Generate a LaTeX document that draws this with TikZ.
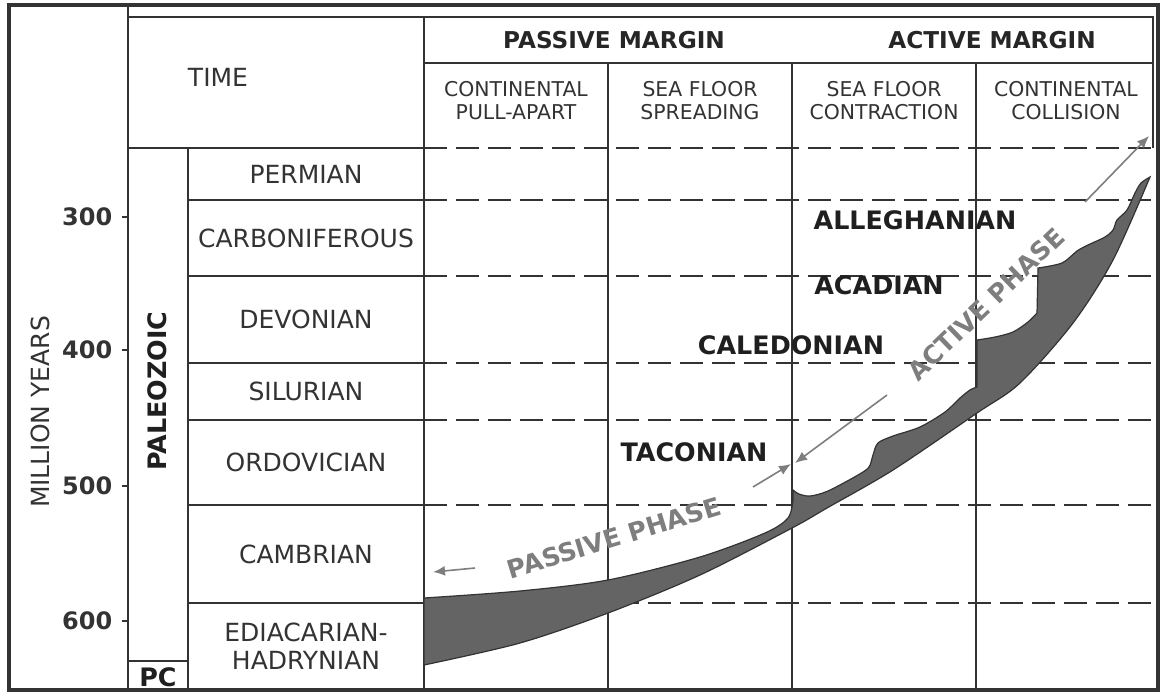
\documentclass[tikz,border=0pt]{standalone}
\usepackage{fontspec}
\setmainfont{DejaVu Sans}
\usetikzlibrary{arrows.meta}

\definecolor{ink}{HTML}{333333}
\definecolor{phasegray}{HTML}{7E7E7E}
\definecolor{crust}{HTML}{646464}

\begin{document}
\begin{tikzpicture}[x=0.5pt,y=-0.5pt,line width=1pt,draw=ink,
    lab/.style={text=ink,font=\fontsize{12.5}{14}\selectfont,align=center},
    head/.style={text=ink,font=\fontsize{10.2}{11.5}\selectfont,align=center},
    margin/.style={text=black!85,font=\bfseries\fontsize{11.6}{14}\selectfont},
    orogeny/.style={text=black!88,font=\bfseries\fontsize{12.7}{15}\selectfont},
    phase/.style={text=phasegray,font=\bfseries\fontsize{12.7}{15}\selectfont},
    agelab/.style={text=ink,font=\bfseries\fontsize{12}{14}\selectfont,anchor=east},
    dashline/.style={draw=ink,dash pattern=on 11.5pt off 4.5pt},
    phasearrow/.style={draw=phasegray,line width=0.8pt,-{Latex[length=6pt,width=5pt]}}]

        \useasboundingbox (0,0) rectangle (1160,691);

        % table frame
        \draw[line width=2pt] (9,5) rectangle (1158,690);
        \draw (128,5) -- (128,690);
        \draw (128,17) -- (1153,17) -- (1153,148);
        \draw (424,17) -- (424,690);
        \draw (424,63) -- (1153,63);
        \foreach \x in {608,792,976} \draw (\x,63) -- (\x,690);
        \draw (128,148) -- (424,148);
        \draw (188,148) -- (188,690);
        \draw (128,661) -- (188,661);
        \foreach \y in {200,276,363,420,505,603} \draw (188,\y) -- (424,\y);
        \foreach \y in {148,200,276,363,420,505,603} \draw[dashline] (424,\y) -- (1156,\y);

        % age ticks
        \foreach \age/\y in {300/217,400/350,500/486,600/621} {
            \draw (122,\y) -- (128,\y);
            \node[agelab] (age\age) at (120,\y) {\age};
        }

        % crust wedge
        \draw[fill=crust,line width=0.6pt]
            plot[smooth] coordinates {(424,598) (520,591) (608,580) (700,557) (765,533) (788,518) (793,500)}
            -- (793,490)
            -- plot[smooth] coordinates {(793,490) (799,494) (810,496) (828,491) (858,475) (869,467) (873,455) (878,443) (893,436) (920,427) (945,412) (960,398) (970,390) (977,387)}
            -- (977,340)
            -- plot[smooth] coordinates {(977,340) (995,337) (1013,332) (1028,322) (1037,313)}
            -- (1038,268)
            -- plot[smooth] coordinates {(1038,268) (1062,263) (1077,251) (1088,245) (1105,237) (1113,230) (1117,220) (1127,210) (1135,193) (1141,183) (1150,177)}
            -- plot[smooth] coordinates {(1150,177) (1113,260) (1073,323) (1020,383) (977,413) (893,470) (827,508) (792,528) (700,575) (608,613) (520,643) (424,665)}
            -- cycle;

        % headers
        \node[lab] (time) at (218,77) {TIME};
        \node[margin] (pm) at (614,40) {PASSIVE MARGIN};
        \node[margin] (am) at (992,40) {ACTIVE MARGIN};
        \node[head] (cpa) at (516,101) {CONTINENTAL\\PULL-APART};
        \node[head] (sfs) at (700,101) {SEA FLOOR\\SPREADING};
        \node[head] (sfc) at (884,101) {SEA FLOOR\\CONTRACTION};
        \node[head] (cc) at (1066,101) {CONTINENTAL\\COLLISION};

        % periods
        \foreach \name/\top/\bot [count=\i] in {PERMIAN/148/200, CARBONIFEROUS/200/276,
            DEVONIAN/276/363, SILURIAN/363/420, ORDOVICIAN/420/505, CAMBRIAN/505/603,
            {EDIACARIAN-\\HADRYNIAN}/603/690}
            \node[lab] (per\i) at (306,{(\top+\bot)/2}) {\name};

        \node[lab,rotate=90] (myears) at (40,412) {MILLION YEARS};
        \node[orogeny,rotate=90] (paleo) at (157,391) {PALEOZOIC};
        \node[orogeny] (pc) at (158,677) {PC};

        % orogenies
        \node[orogeny] (taconian) at (694,452) {TACONIAN};
        \node[orogeny] (caledonian) at (791,345) {CALEDONIAN};
        \node[orogeny] (acadian) at (879,285) {ACADIAN};
        \node[orogeny] (alleghanian) at (915,220) {ALLEGHANIAN};

        % phases
        \node[phase,rotate=17] (passive) at (614,538) {PASSIVE PHASE};
        \node[phase,rotate=44] (active) at (986,304) {ACTIVE PHASE};

        \coordinate (pp-a) at (475,568);
        \coordinate (pp-b) at (433,572);
        \coordinate (tac-a) at (753,487);
        \coordinate (tac-b) at (791,464);
        \coordinate (ap-a) at (887,395);
        \coordinate (ap-b) at (795,463);
        \coordinate (ap-c) at (1085,202);
        \coordinate (ap-d) at (1149,136);

        \draw[phasearrow] (pp-a) -- (pp-b);
        \draw[phasearrow] (tac-a) -- (tac-b);
        \draw[phasearrow] (ap-a) -- (ap-b);
        \draw[phasearrow] (ap-c) -- (ap-d);

\end{tikzpicture}
\end{document}
